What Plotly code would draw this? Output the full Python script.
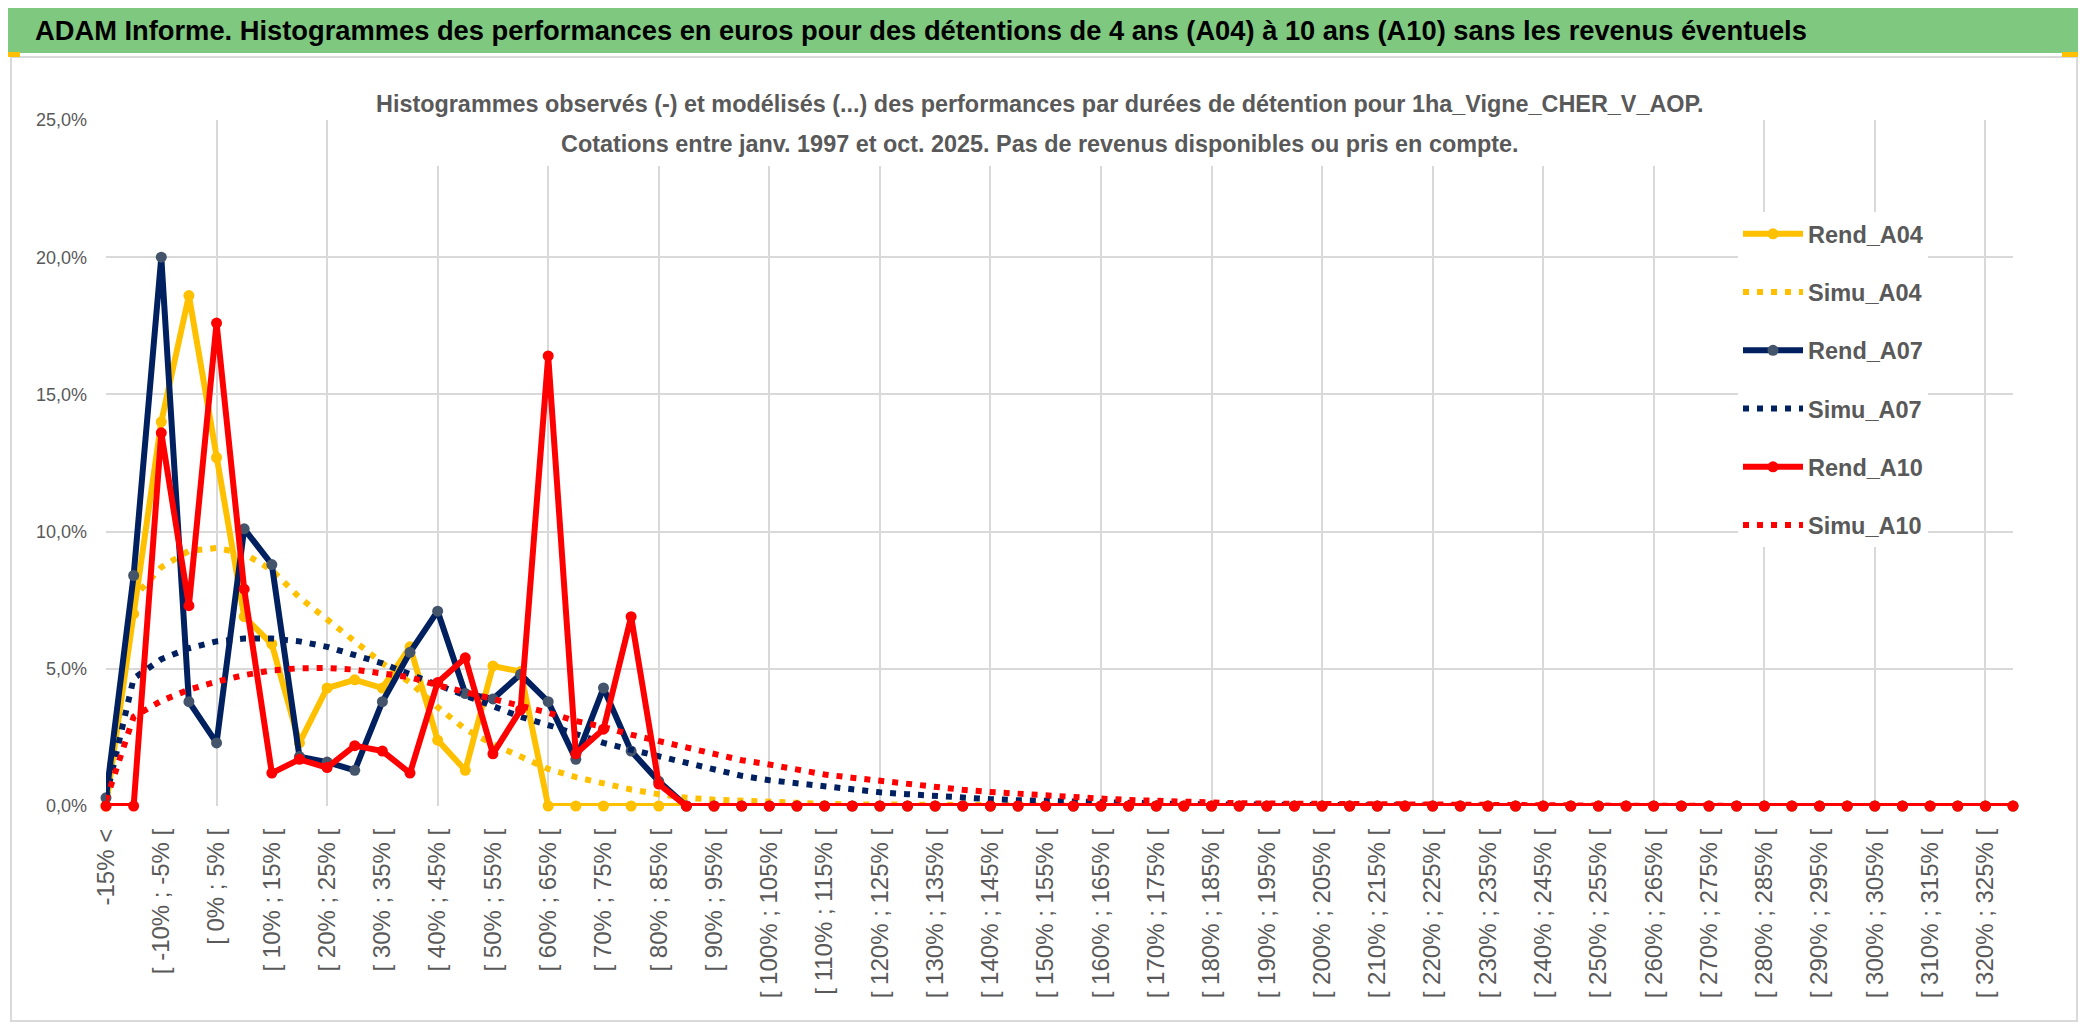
import plotly.graph_objects as go

# ---------------- data ----------------
categories = ["-15% <"] + ["[ %d%% ; %d%% [" % (lo, lo + 5) for lo in range(-15, 330, 5)]

rend_a04 = [0.0, 7.0, 14.0, 18.6, 12.7, 6.9, 5.9, 2.3, 4.3, 4.6, 4.3, 5.8, 2.4, 1.3, 5.1, 4.9,
            0, 0, 0, 0, 0, 0, 0, 0, 0, 0, 0, 0, 0, 0, 0, 0, 0, 0, 0, 0, 0, 0, 0, 0, 0, 0, 0, 0, 0,
            0, 0, 0, 0, 0, 0, 0, 0, 0, 0, 0, 0, 0, 0, 0, 0, 0, 0, 0, 0, 0, 0, 0, 0, 0]
simu_a04 = [0.4, 7.6, 8.7, 9.3, 9.4, 9.2, 8.6, 7.6, 6.8, 6.0, 5.2, 4.5, 3.6, 2.8, 2.25, 1.8,
            1.35, 1.05, 0.8, 0.6, 0.43, 0.3, 0.23, 0.18, 0.13, 0.10, 0.08, 0.06, 0.05, 0.04,
            0.03, 0.02, 0.02, 0.01, 0.01, 0, 0, 0, 0, 0, 0, 0, 0, 0, 0, 0, 0, 0, 0, 0, 0, 0,
            0, 0, 0, 0, 0, 0, 0, 0, 0, 0, 0, 0, 0, 0, 0, 0, 0, 0]
rend_a07 = [0.3, 8.4, 20.0, 3.8, 2.3, 10.1, 8.8, 1.8, 1.6, 1.3, 3.8, 5.6, 7.1, 4.1, 3.9, 4.8,
            3.8, 1.7, 4.3, 2.0, 0.9, 0, 0, 0, 0, 0, 0, 0, 0, 0, 0, 0, 0, 0, 0, 0, 0, 0, 0, 0,
            0, 0, 0, 0, 0, 0, 0, 0, 0, 0, 0, 0, 0, 0, 0, 0, 0, 0, 0, 0, 0, 0, 0, 0, 0, 0, 0,
            0, 0, 0]
simu_a07 = [0.3, 4.65, 5.35, 5.75, 6.0, 6.1, 6.1, 6.0, 5.8, 5.5, 5.2, 4.8, 4.4, 4.05, 3.65,
            3.25, 2.95, 2.6, 2.3, 2.05, 1.8, 1.56, 1.33, 1.1, 0.94, 0.82, 0.71, 0.6, 0.5, 0.43,
            0.36, 0.29, 0.25, 0.21, 0.18, 0.15, 0.12, 0.10, 0.08, 0.07, 0.06, 0.05, 0.04, 0.03,
            0.03, 0.02, 0.02, 0.01, 0.01, 0, 0, 0, 0, 0, 0, 0, 0, 0, 0, 0, 0, 0, 0, 0, 0, 0,
            0, 0, 0, 0]
rend_a10 = [0.0, 0.0, 13.6, 7.3, 17.6, 7.9, 1.2, 1.7, 1.4, 2.2, 2.0, 1.2, 4.5, 5.4, 1.9, 3.5,
            16.4, 1.9, 2.8, 6.9, 0.8, 0, 0, 0, 0, 0, 0, 0, 0, 0, 0, 0, 0, 0, 0, 0, 0, 0, 0, 0,
            0, 0, 0, 0, 0, 0, 0, 0, 0, 0, 0, 0, 0, 0, 0, 0, 0, 0, 0, 0, 0, 0, 0, 0, 0, 0, 0,
            0, 0, 0]
simu_a10 = [0.2, 3.25, 3.83, 4.24, 4.53, 4.77, 4.94, 5.02, 5.03, 4.97, 4.83, 4.69, 4.4, 4.16,
            3.9, 3.68, 3.4, 3.1, 2.88, 2.6, 2.37, 2.17, 1.9, 1.67, 1.51, 1.32, 1.15, 1.03, 0.92,
            0.78, 0.69, 0.59, 0.51, 0.44, 0.38, 0.32, 0.27, 0.22, 0.18, 0.15, 0.12, 0.10, 0.09,
            0.08, 0.07, 0.06, 0.05, 0.04, 0.04, 0.03, 0.03, 0.02, 0.02, 0.02, 0.01, 0.01, 0.01,
            0, 0, 0, 0, 0, 0, 0, 0, 0, 0, 0, 0, 0]

y_ticks = [0, 0.05, 0.10, 0.15, 0.20, 0.25]
x_label_every = 2
x_grid_every = 4

main_title = ("ADAM Informe. Histogrammes des performances en euros pour des détentions "
              "de 4 ans (A04) à 10 ans (A10) sans les revenus éventuels")
sub_title_1 = ("Histogrammes observés (-) et modélisés (...) des performances par durées "
               "de détention pour 1ha_Vigne_CHER_V_AOP.")
sub_title_2 = "Cotations entre janv. 1997 et oct. 2025. Pas de revenus disponibles ou pris en compte."

# ---------------- geometry helpers (reference pixel coords) ----------------
OFF = 8                       # page body margin of the html page
FW, FH = 2086 - 2 * OFF, 1033 - 2 * OFF
L, R = 106, 2013              # reference pixel x of first / last category
T, B = 120, 806               # reference pixel y of 25 % / 0 %


def px(x):
    return (x - L) / (R - L)


def py(y):
    return (B - y) / (B - T)


YEL = "#FFC000"
NAVY = "#002060"
SLATE = "#44546A"
RED = "#FF0000"
GRAY_TXT = "#595959"
FONT = "Liberation Sans, Arial, sans-serif"

fig = go.Figure()

series = [
    ("Rend_A04", rend_a04, YEL, YEL, True),
    ("Simu_A04", simu_a04, YEL, YEL, False),
    ("Rend_A07", rend_a07, NAVY, SLATE, True),
    ("Simu_A07", simu_a07, NAVY, NAVY, False),
    ("Rend_A10", rend_a10, RED, RED, True),
    ("Simu_A10", simu_a10, RED, RED, False),
]

for name, vals, col, mcol, solid in series:
    yv = [v / 100 for v in vals]
    if solid:
        fig.add_trace(go.Scatter(
            x=categories, y=yv, name=name, mode="lines+markers",
            line=dict(color=col, width=6),
            marker=dict(color=mcol, size=11, line=dict(width=0)),
            cliponaxis=False, legendgroup=name,
        ))
    else:
        fig.add_trace(go.Scatter(
            x=categories, y=yv, name=name, mode="lines",
            line=dict(color=col, width=6, dash="6px,8px"),
            cliponaxis=False, legendgroup=name,
        ))

shapes = [
    # green title bar
    dict(type="rect", xref="paper", yref="paper", x0=px(OFF), x1=px(2086), y0=py(53), y1=py(OFF),
         fillcolor="#7FC87F", line=dict(width=0), layer="above"),
    # chart area frame
    dict(type="rect", xref="paper", yref="paper", x0=px(11), x1=px(2077), y0=py(1021), y1=py(57),
         line=dict(color="#D9D9D9", width=2), fillcolor="rgba(0,0,0,0)", layer="below"),
    # white box behind the subtitle
    dict(type="rect", xref="paper", yref="paper", x0=px(368), x1=px(1711), y0=py(166), y1=py(80),
         fillcolor="white", line=dict(width=0), layer="above"),
    # small yellow selection marks
    dict(type="rect", xref="paper", yref="paper", x0=px(OFF), x1=px(20), y0=py(57), y1=py(52),
         fillcolor=YEL, line=dict(width=0), layer="above"),
    dict(type="rect", xref="paper", yref="paper", x0=px(2062), x1=px(2080), y0=py(57), y1=py(52),
         fillcolor=YEL, line=dict(width=0), layer="above"),
]

annotations = [
    dict(text="<b>" + main_title + "</b>", xref="paper", yref="paper", x=px(33), y=py(30),
         xanchor="left", yanchor="middle", showarrow=False,
         font=dict(family=FONT, size=27.3, color="black")),
    dict(text="<b>" + sub_title_1 + "</b>", xref="paper", yref="paper", x=px(1040), y=py(104),
         xanchor="center", yanchor="middle", showarrow=False,
         font=dict(family=FONT, size=23.4, color=GRAY_TXT)),
    dict(text="<b>" + sub_title_2 + "</b>", xref="paper", yref="paper", x=px(1040), y=py(144),
         xanchor="center", yanchor="middle", showarrow=False,
         font=dict(family=FONT, size=23.4, color=GRAY_TXT)),
]

fig.update_layout(
    width=FW, height=FH,
    margin=dict(l=L - OFF, r=FW - (R - OFF), t=T - OFF, b=FH - (B - OFF), pad=0),
    paper_bgcolor="white", plot_bgcolor="white",
    separators=", ",
    showlegend=True,
    legend=dict(
        x=px(1738), y=py(212), xanchor="left", yanchor="top",
        bgcolor="white", borderwidth=0,
        font=dict(family=FONT, size=23.5, color=GRAY_TXT, weight="bold"),
        itemwidth=60, tracegroupgap=24.7, traceorder="grouped",
    ),
    shapes=shapes,
    annotations=annotations,
)

fig.update_xaxes(
    type="category",
    range=[0, len(categories) - 1],
    tickmode="array",
    tickvals=categories[::x_label_every],
    ticktext=categories[::x_label_every],
    tickangle=-90,
    ticks="",
    ticklabelstandoff=17,
    tickfont=dict(family=FONT, size=24, color=GRAY_TXT),
    showgrid=False,
    showline=False,
    zeroline=False,
    minor=dict(tickmode="array", tickvals=categories[::x_grid_every],
               showgrid=True, gridcolor="#D9D9D9", gridwidth=2, ticks=""),
    fixedrange=True,
)
fig.update_yaxes(
    range=[0, 0.25],
    tickmode="array",
    tickvals=y_ticks,
    tickformat=".1%",
    ticks="",
    ticklabelstandoff=18,
    tickfont=dict(family=FONT, size=18, color=GRAY_TXT),
    showgrid=True, gridcolor="#D9D9D9", gridwidth=2,
    zeroline=False, showline=False,
    fixedrange=True,
)

fig.write_html("out.html")
